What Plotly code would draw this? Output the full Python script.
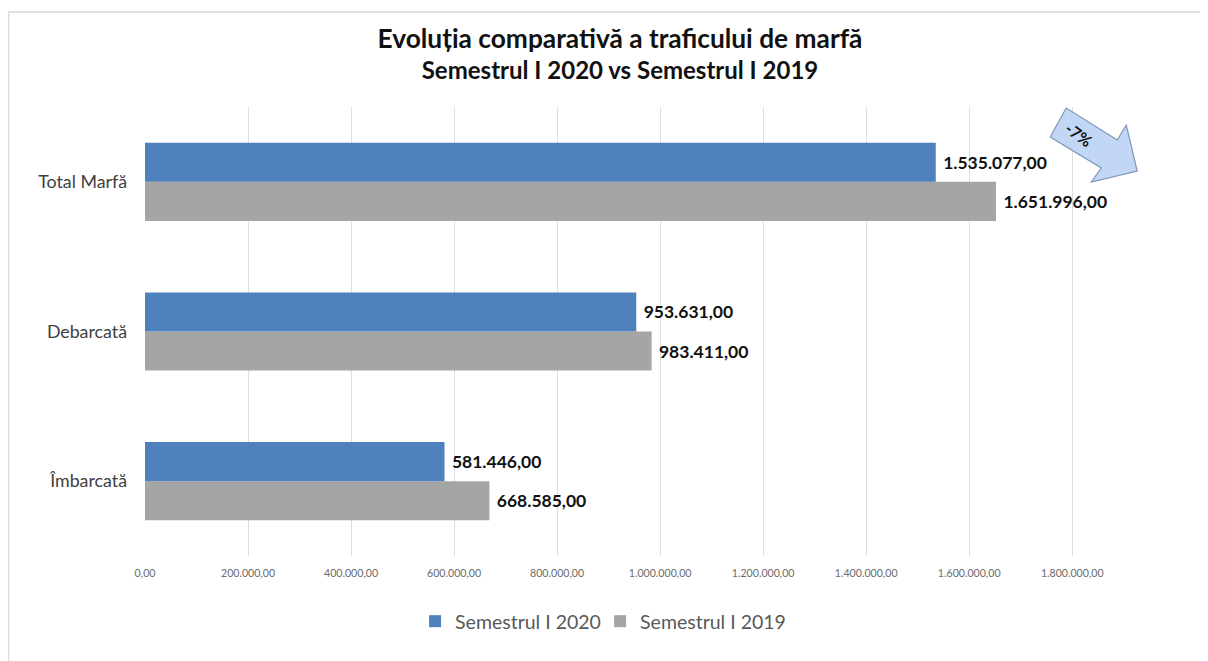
import plotly.graph_objects as go

categories = ["Îmbarcată", "Debarcată", "Total Marfă"]
s2020 = [581446, 953631, 1535077]
s2019 = [668585, 983411, 1651996]
tickvals = [0, 200000, 400000, 600000, 800000, 1000000, 1200000, 1400000, 1600000, 1800000]
ticktext = ["0,00", "200.000,00", "400.000,00", "600.000,00", "800.000,00", "1.000.000,00", "1.200.000,00", "1.400.000,00", "1.600.000,00", "1.800.000,00"]
change_label = "-7%"

W, H = 1200, 653
L, T, PW, PH = 137, 99, 952.75, 449


def px(x):
    return (x - 8 - L) / PW


def py(y):
    return 1 - (y - 8 - T) / PH


def fmt(v):
    return "\u2009\u2009" + f"{v:,}".replace(",", ".") + ",00"


FONT = "Lato, Open Sans, sans-serif"
label_font = dict(size=17.5, color="#111", family=FONT, weight="bold")
fig = go.Figure()
fig.add_bar(y=categories, x=s2019, name="Semestrul I 2019", orientation="h", marker_color="#A5A5A5",
            marker_line_width=0, text=[fmt(v) for v in s2019], textposition="outside", cliponaxis=False,
            textfont=label_font)
fig.add_bar(y=categories, x=s2020, name="Semestrul I 2020", orientation="h", marker_color="#4F81BD",
            marker_line_width=0, text=[fmt(v) for v in s2020], textposition="outside", cliponaxis=False,
            textfont=label_font)

arrow = [(1066, 108), (1050, 137), (1101, 168), (1091, 182), (1137, 171), (1126, 125), (1117, 140)]
arrow_path = "M " + " L ".join(f"{px(x):.5f} {py(y):.5f}" for x, y in arrow) + " Z"
border = dict(type="line", xref="paper", yref="paper", line=dict(color="#D9D9D9", width=1.5), layer="below")

fig.update_layout(
    width=W, height=H, autosize=False, barmode="group", bargap=0.478, bargroupgap=0,
    paper_bgcolor="white", plot_bgcolor="white", font=dict(family=FONT),
    margin=dict(l=L, r=W - L - PW, t=T, b=H - T - PH, autoexpand=False),
    title=dict(text='<b><span style="font-size:26.3px">Evoluția comparativă a traficului de marfă</span>'
                    '<br>Semestrul I 2020 vs Semestrul I 2019</b>',
               x=(620 - 8) / W, xanchor="center", y=1 - (40 / H), yanchor="top",
               font=dict(size=24, color="#111", family=FONT)),
    legend=dict(orientation="h", x=px(415), xanchor="left", y=py(602), yanchor="top", traceorder="reversed",
                font=dict(size=19.5, color="#595959"), itemwidth=30, entrywidth=140, entrywidthmode="pixels"),
    xaxis=dict(range=[0, 1850000], tickvals=tickvals, ticktext=ticktext, tickfont=dict(size=10.6, color="#6b6b6b"),
               showgrid=True, gridcolor="#DEDEDE", zeroline=False, showline=False,
               ticks="outside", ticklen=7, tickcolor="rgba(0,0,0,0)"),
    yaxis=dict(tickfont=dict(size=17.8, color="#404040"), showgrid=False, ticks="", ticklen=0, showline=False,
               ticklabelstandoff=17),
    shapes=[
        dict(border, x0=px(8.5), x1=px(1208), y0=py(12), y1=py(12)),
        dict(border, x0=px(8.5), x1=px(8.5), y0=py(12), y1=py(661)),
        dict(type="path", xref="paper", yref="paper", path=arrow_path, fillcolor="#C2D6F5",
             line=dict(color="#7F96B8", width=1.2), layer="above"),
    ],
    annotations=[dict(text=f"<b>{change_label}</b>", xref="paper", yref="paper", x=px(1079), y=py(134),
                      xanchor="center", yanchor="middle", showarrow=False, textangle=36,
                      font=dict(size=16, color="#111", family=FONT))],
)
fig.write_html("out.html")
